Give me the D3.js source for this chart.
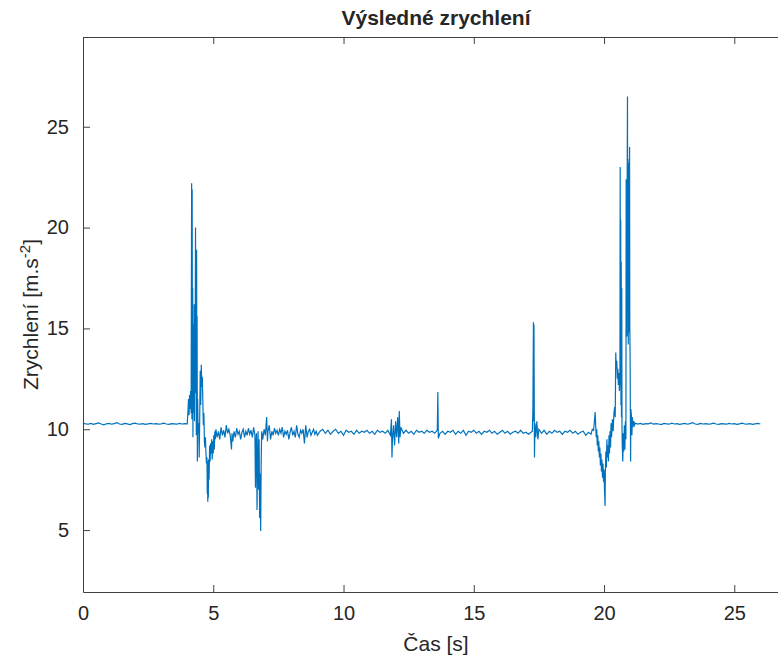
<!DOCTYPE html>
<html>
<head>
<meta charset="utf-8">
<title>Výsledné zrychlení</title>
<script src="https://d3js.org/d3.v7.min.js"></script>
<style>
body { margin: 0; background: #fff; }
text { font-family: "Liberation Sans", Arial, Helvetica, sans-serif; fill: #262626; }
</style>
</head>
<body>
<div id="chart"></div>
<script>
// cas [s], zrychleni [m.s-2]
var klid1 = [
  [0.0, 10.30], [0.1, 10.27], [0.2, 10.25], [0.3, 10.29], [0.4, 10.24], [0.5, 10.28],
  [0.6, 10.31], [0.7, 10.26], [0.8, 10.22], [0.9, 10.27], [1.0, 10.29], [1.1, 10.25],
  [1.2, 10.28], [1.3, 10.33], [1.4, 10.26], [1.5, 10.24], [1.6, 10.29], [1.7, 10.27],
  [1.8, 10.23], [1.9, 10.28], [2.0, 10.30], [2.1, 10.26], [2.2, 10.25], [2.3, 10.28],
  [2.4, 10.24], [2.5, 10.27], [2.6, 10.29], [2.7, 10.26], [2.8, 10.28], [2.9, 10.25],
  [3.0, 10.27], [3.1, 10.30], [3.2, 10.26], [3.3, 10.24], [3.4, 10.28], [3.5, 10.27],
  [3.6, 10.25], [3.7, 10.29], [3.8, 10.26], [3.9, 10.28], [4.0, 10.27]
];

var naraz1 = [
  [4.03, 10.9], [4.05, 11.5], [4.07, 10.7], [4.09, 11.7], [4.11, 11.0], [4.13, 11.9],
  [4.15, 10.8], [4.17, 22.2], [4.18, 10.5], [4.19, 21.9], [4.20, 13.0], [4.21, 17.0],
  [4.22, 9.6], [4.23, 15.2], [4.24, 10.8], [4.25, 14.0], [4.26, 12.5], [4.27, 16.2],
  [4.28, 10.4], [4.29, 14.8], [4.30, 11.8], [4.32, 20.0], [4.33, 13.5], [4.34, 15.8],
  [4.35, 9.7], [4.36, 18.9], [4.37, 12.2], [4.38, 15.6], [4.39, 8.4], [4.40, 11.5],
  [4.42, 9.8], [4.44, 10.3], [4.46, 8.6], [4.48, 10.5], [4.50, 12.9], [4.52, 11.2],
  [4.54, 13.2], [4.56, 12.1], [4.58, 12.6], [4.60, 11.4], [4.62, 10.2], [4.64, 10.8],
  [4.66, 9.4], [4.68, 9.1], [4.70, 9.6], [4.72, 8.8], [4.74, 8.3], [4.76, 8.6],
  [4.77, 6.8], [4.78, 8.4], [4.79, 6.4], [4.80, 7.9], [4.81, 6.6], [4.82, 8.5],
  [4.84, 7.5], [4.86, 9.2], [4.88, 8.4], [4.90, 9.3], [4.92, 8.8], [4.94, 9.5],
  [4.96, 8.5], [4.98, 9.4], [5.00, 8.8], [5.02, 9.7], [5.04, 9.0], [5.06, 9.9],
  [5.08, 9.5], [5.10, 10.0]
];

var jizda = [
  [5.15, 9.6], [5.2, 9.9], [5.25, 9.5], [5.3, 10.1], [5.35, 9.7], [5.4, 9.95], [5.45, 9.6],
  [5.5, 10.2], [5.55, 9.8], [5.6, 10.0], [5.65, 9.7], [5.7, 9.0], [5.72, 9.8], [5.75, 9.4],
  [5.8, 9.9], [5.85, 9.6], [5.9, 10.05], [5.95, 9.75], [6.0, 9.9], [6.05, 9.5], [6.1, 9.85],
  [6.15, 10.0], [6.2, 9.6], [6.25, 9.9], [6.3, 9.7], [6.35, 10.05], [6.4, 9.75], [6.45, 9.95],
  [6.5, 9.6], [6.55, 10.1], [6.6, 9.7], [6.62, 7.1], [6.64, 9.3], [6.66, 9.8], [6.68, 6.0],
  [6.70, 8.2], [6.72, 9.9], [6.74, 7.0], [6.76, 9.5], [6.78, 5.6], [6.80, 7.8], [6.82, 4.95],
  [6.84, 8.5], [6.86, 9.9], [6.9, 9.5], [6.95, 10.0], [7.0, 9.7], [7.05, 10.6], [7.08, 9.4],
  [7.1, 9.9], [7.15, 10.2], [7.2, 9.5], [7.25, 9.9], [7.3, 9.7], [7.35, 10.05], [7.4, 9.8],
  [7.45, 9.95], [7.5, 9.7], [7.55, 10.0], [7.6, 9.8], [7.65, 10.1], [7.7, 9.6], [7.75, 9.9],
  [7.8, 9.75], [7.85, 9.95], [7.9, 9.5], [7.95, 9.85], [8.0, 10.1], [8.05, 9.7], [8.1, 9.9],
  [8.15, 9.6], [8.2, 10.2], [8.25, 9.75], [8.3, 9.6], [8.35, 9.95], [8.4, 9.8], [8.45, 10.0],
  [8.5, 9.3], [8.55, 10.2], [8.6, 9.6], [8.65, 9.9], [8.7, 10.0], [8.75, 9.7], [8.8, 9.85],
  [8.85, 10.0], [8.9, 9.75], [8.95, 9.9], [9.0, 9.7],
  [9.1, 9.9], [9.2, 10.0], [9.3, 9.8], [9.4, 9.95], [9.5, 9.75], [9.6, 9.9], [9.7, 10.0],
  [9.8, 9.8], [9.9, 9.9], [10.0, 9.7], [10.1, 9.95], [10.2, 9.85], [10.3, 9.9], [10.4, 9.75],
  [10.5, 9.95], [10.6, 9.8], [10.7, 9.9], [10.8, 9.85], [10.9, 9.95], [11.0, 9.8], [11.1, 9.9],
  [11.2, 9.75], [11.3, 9.95], [11.4, 9.85], [11.5, 9.9], [11.6, 9.8], [11.7, 9.95], [11.8, 9.7],
  [11.84, 10.5], [11.86, 8.6], [11.88, 9.5], [11.92, 10.2], [11.96, 9.2], [12.0, 10.4],
  [12.04, 9.6], [12.08, 10.6], [12.12, 9.3], [12.14, 10.9], [12.17, 9.6], [12.2, 10.1],
  [12.3, 9.8], [12.4, 9.95], [12.5, 9.8], [12.6, 9.9], [12.7, 9.75], [12.8, 9.95], [12.9, 9.85],
  [13.0, 9.9], [13.1, 9.8], [13.2, 9.95], [13.3, 9.85], [13.4, 9.9], [13.5, 9.8], [13.6, 9.95],
  [13.62, 11.85], [13.64, 9.55], [13.7, 9.8], [13.8, 9.9], [13.9, 9.75], [14.0, 9.9],
  [14.1, 9.85], [14.2, 9.95], [14.3, 9.75], [14.4, 9.9], [14.5, 9.8], [14.6, 9.95], [14.7, 9.7],
  [14.8, 9.9], [14.9, 9.85], [15.0, 9.95], [15.1, 9.8], [15.2, 9.9], [15.3, 9.75], [15.4, 9.9],
  [15.5, 9.85], [15.6, 9.95], [15.7, 9.8], [15.8, 9.9], [15.9, 9.75], [16.0, 9.85], [16.1, 9.95],
  [16.2, 9.8], [16.3, 9.9], [16.4, 9.75], [16.5, 9.85], [16.6, 9.9], [16.7, 9.8], [16.8, 9.95],
  [16.9, 9.8], [17.0, 9.85], [17.1, 9.75], [17.2, 9.85], [17.25, 9.9], [17.27, 11.0],
  [17.29, 15.3], [17.30, 10.4], [17.31, 15.2], [17.33, 8.6], [17.35, 10.3], [17.38, 9.6],
  [17.42, 10.4], [17.46, 9.5], [17.5, 10.0], [17.6, 9.8], [17.7, 9.95], [17.8, 9.75],
  [17.9, 9.9], [18.0, 9.8], [18.1, 9.95], [18.2, 9.85], [18.3, 9.9], [18.4, 9.75], [18.5, 9.9],
  [18.6, 9.85], [18.7, 9.95], [18.8, 9.8], [18.9, 9.9], [19.0, 9.75], [19.1, 9.85], [19.2, 9.9],
  [19.3, 9.7], [19.4, 9.85], [19.5, 9.75], [19.55, 10.0]
];

var naraz2 = [
  [19.60, 9.95], [19.63, 10.4], [19.66, 10.85], [19.68, 10.2], [19.70, 9.6], [19.72, 10.0],
  [19.74, 9.2], [19.76, 9.7], [19.78, 8.9], [19.80, 9.4], [19.82, 8.6], [19.84, 9.1],
  [19.86, 8.2], [19.88, 8.8], [19.90, 7.9], [19.92, 8.5], [19.94, 7.6], [19.96, 8.3],
  [19.98, 7.4], [20.00, 8.0], [20.02, 6.9], [20.04, 6.2], [20.05, 7.8], [20.07, 8.9],
  [20.09, 8.1], [20.11, 9.5], [20.13, 8.6], [20.15, 9.2], [20.17, 8.4], [20.19, 9.7],
  [20.21, 8.8], [20.23, 9.9], [20.25, 9.1], [20.27, 10.3], [20.29, 9.6], [20.32, 10.5],
  [20.35, 9.9], [20.38, 10.8], [20.41, 11.1], [20.43, 10.6], [20.45, 13.8], [20.47, 13.0],
  [20.49, 13.4], [20.51, 12.5], [20.53, 13.0], [20.55, 12.2], [20.57, 12.8], [20.59, 11.9],
  [20.61, 12.5], [20.62, 23.0], [20.63, 14.0], [20.64, 20.4], [20.65, 11.2], [20.66, 18.3],
  [20.67, 10.6], [20.68, 17.0], [20.69, 10.0], [20.70, 9.2], [20.72, 8.4], [20.74, 9.8],
  [20.76, 8.9], [20.78, 10.2], [20.80, 9.0], [20.82, 10.4], [20.84, 9.5], [20.85, 22.4],
  [20.86, 15.5], [20.87, 21.8], [20.88, 14.6], [20.89, 22.9], [20.90, 26.5], [20.91, 15.8],
  [20.92, 23.4], [20.93, 14.2], [20.94, 21.6], [20.95, 16.0], [20.96, 23.2], [20.97, 14.8],
  [20.98, 24.0], [20.99, 15.0], [21.00, 13.8], [21.01, 11.0], [21.02, 8.4], [21.03, 11.0],
  [21.05, 10.7], [21.07, 9.7], [21.09, 10.6], [21.11, 10.1], [21.14, 10.4], [21.17, 10.2],
  [21.20, 10.3]
];

var klid2 = [
  [21.3, 10.26], [21.4, 10.29], [21.5, 10.24], [21.6, 10.28], [21.7, 10.27], [21.8, 10.31],
  [21.9, 10.25], [22.0, 10.28], [22.1, 10.26], [22.2, 10.23], [22.3, 10.29], [22.4, 10.27],
  [22.5, 10.25], [22.6, 10.30], [22.7, 10.26], [22.8, 10.28], [22.9, 10.24], [23.0, 10.27],
  [23.1, 10.29], [23.2, 10.25], [23.3, 10.28], [23.4, 10.33], [23.5, 10.26], [23.6, 10.24],
  [23.7, 10.29], [23.8, 10.26], [23.9, 10.28], [24.0, 10.25], [24.1, 10.27], [24.2, 10.30],
  [24.3, 10.26], [24.4, 10.24], [24.5, 10.28], [24.6, 10.27], [24.7, 10.25], [24.8, 10.29],
  [24.9, 10.26], [25.0, 10.28], [25.1, 10.24], [25.2, 10.27], [25.3, 10.30], [25.4, 10.26],
  [25.5, 10.25], [25.6, 10.28], [25.7, 10.24], [25.8, 10.27], [25.9, 10.29], [26.0, 10.26]
];

var xTicks = [0, 5, 10, 15, 20, 25];
var yTicks = [5, 10, 15, 20, 25];

var data = klid1.concat(naraz1, jizda, naraz2, klid2);

var width = 778, height = 666;
var margin = {top: 37, right: -11, bottom: 74, left: 83};

var svg = d3.select("#chart").append("svg")
  .attr("width", width)
  .attr("height", height);

var x = d3.scaleLinear().domain([0, 27.1]).range([margin.left, width - margin.right]);
var y = d3.scaleLinear().domain([1.93, 29.45]).range([height - margin.bottom, margin.top]);

var axisColor = "#404040";

var line = d3.line()
  .x(function(d) { return x(d[0]); })
  .y(function(d) { return y(d[1]); });

svg.append("path")
  .datum(data)
  .attr("fill", "none")
  .attr("stroke", "#0072BD")
  .attr("stroke-width", 1.2)
  .attr("d", line);

// osy (MATLAB styl, ticky dovnitr)
var gx = svg.append("g")
  .attr("transform", "translate(0," + (height - margin.bottom) + ")")
  .call(d3.axisBottom(x).tickValues(xTicks).tickSizeInner(-7).tickSizeOuter(0).tickPadding(14));
var gxTop = svg.append("g")
  .attr("transform", "translate(0," + margin.top + ")")
  .call(d3.axisTop(x).tickValues(xTicks).tickSizeInner(-7).tickSizeOuter(0).tickFormat(""));
var gy = svg.append("g")
  .attr("transform", "translate(" + margin.left + ",0)")
  .call(d3.axisLeft(y).tickValues(yTicks).tickSizeInner(-7).tickSizeOuter(0).tickPadding(14));

[gx, gxTop, gy].forEach(function(g) {
  g.select(".domain").attr("stroke", axisColor);
  g.selectAll(".tick line").attr("stroke", axisColor);
  g.selectAll(".tick text")
    .attr("fill", "#262626")
    .style("font-size", "20px")
    .style("font-family", "'Liberation Sans', Arial, sans-serif");
});

svg.append("text")
  .attr("x", (x(0) + x(27.1)) / 2)
  .attr("y", 25)
  .attr("text-anchor", "middle")
  .style("font-size", "21px")
  .style("font-weight", "bold")
  .text("Výsledné zrychlení");

svg.append("text")
  .attr("x", (x(0) + x(27.1)) / 2)
  .attr("y", 651)
  .attr("text-anchor", "middle")
  .style("font-size", "21px")
  .text("Čas [s]");

var yl = svg.append("text")
  .attr("transform", "translate(38," + ((margin.top + height - margin.bottom) / 2) + ") rotate(-90)")
  .attr("text-anchor", "middle")
  .style("font-size", "21px");
yl.append("tspan").text("Zrychlení [m.s");
yl.append("tspan").attr("dy", -8).style("font-size", "15px").text("-2");
yl.append("tspan").attr("dy", 8).text("]");
</script>
</body>
</html>
